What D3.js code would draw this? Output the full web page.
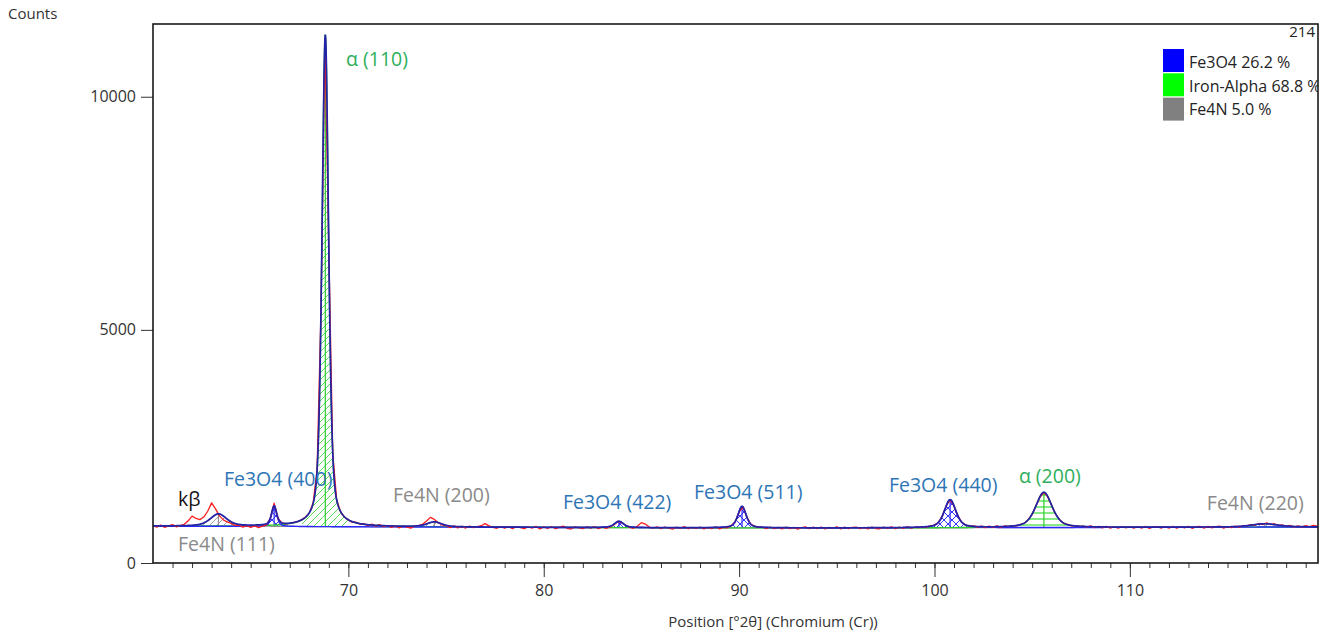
<!DOCTYPE html>
<html>
<head>
<meta charset="utf-8">
<script src="https://cdn.jsdelivr.net/npm/d3@7"></script>
<style>
  body { margin: 0; background: #ffffff; }
  svg text { font-family: "Open Sans", "Segoe UI", "Noto Sans", sans-serif; }
</style>
</head>
<body>
<svg id="chart" width="1328" height="634"></svg>
<script>
// ---- Measured scan (Cr K-alpha), counts every 0.2 deg 2-theta ----
const scanStart = 60.0;
const scanStep = 0.2;
const observedCounts = [
  800, 770, 815, 765, 795, 822, 776, 803, 830, 905,
  1005, 955, 930, 985, 1110, 1290, 1160, 1010, 925, 880,
  850, 805, 812, 770, 801, 765, 796, 760, 792, 815,
  950, 1285, 955, 860, 840, 850, 868, 890, 928, 985,
  1070, 1290, 2010, 5420, 11250, 6700, 2350, 1360, 1100, 985,
  925, 870, 875, 830, 845, 800, 835, 790, 822, 780,
  805, 765, 798, 752, 790, 770, 748, 795, 800, 830,
  900, 978, 935, 862, 815, 800, 760, 795, 752, 785,
  750, 790, 758, 780, 800, 845, 795, 762, 745, 782,
  745, 780, 738, 778, 760, 735, 775, 748, 785, 733,
  775, 740, 782, 735, 765, 790, 745, 728, 778, 755,
  735, 778, 748, 782, 738, 770, 745, 775, 822, 892,
  862, 806, 765, 745, 792, 866, 836, 770, 748, 775,
  738, 772, 750, 728, 768, 745, 780, 735, 765, 742,
  770, 733, 762, 740, 775, 730, 766, 752, 798, 886,
  1093, 1205, 980, 830, 790, 762, 770, 738, 772, 735,
  765, 732, 770, 738, 766, 728, 760, 775, 735, 768,
  738, 772, 730, 765, 742, 778, 733, 768, 736, 762,
  770, 737, 762, 730, 772, 740, 735, 768, 742, 775,
  738, 768, 742, 778, 750, 772, 760, 780, 772, 795,
  812, 870, 1008, 1222, 1360, 1218, 1004, 872, 812, 790,
  798, 765, 790, 758, 792, 762, 795, 765, 797, 780,
  800, 798, 828, 850, 935, 1045, 1235, 1410, 1515, 1412,
  1232, 1048, 935, 852, 828, 798, 800, 781, 789, 772,
  795, 760, 788, 752, 785, 750, 780, 745, 778, 752,
  780, 745, 778, 750, 786, 740, 775, 782, 748, 778,
  750, 784, 745, 780, 755, 788, 744, 778, 783, 750,
  785, 752, 780, 790, 748, 782, 760, 792, 770, 795,
  795, 825, 805, 848, 822, 860, 825, 842, 800, 818,
  785, 805, 772, 795, 768, 803, 780, 808, 790
];

// ---- Refined background (knots) ----
const bgPos    = [60, 65, 70, 75, 80, 85, 90, 95, 100, 105, 110, 115, 119.63];
const bgCounts = [790, 785, 777, 770, 763, 757, 753, 752, 754, 758, 764, 769, 773];

// ---- Fitted reflections ----
const peakPhase  = ["Fe3O4", "Fe3O4", "Fe3O4", "Fe3O4", "Iron-Alpha", "Iron-Alpha", "Fe4N", "Fe4N", "Fe4N"];
const peakHkl    = ["(400)", "(422)", "(511)", "(440)", "(110)", "(200)", "(111)", "(200)", "(220)"];
const peakPos    = [66.2, 83.85, 90.15, 100.8, 68.82, 105.6, 63.35, 74.4, 116.9];
const peakHeight = [410, 135, 460, 600, 10550, 755, 260, 105, 70];
const peakFwhm   = [0.32, 0.55, 0.5, 0.7, 0.40, 1.0, 1.0, 0.9, 1.6];
const peakEta    = 0.5;   // pseudo-Voigt Lorentzian fraction

// ---- Phases (legend) ----
const phaseNames   = ["Fe3O4", "Iron-Alpha", "Fe4N"];
const phasePercent = ["26.2", "68.8", "5.0"];
const scoreText    = "214";

// ---- Peak annotations (left edge 2-theta, baseline counts) ----
const labelText   = ["α (110)", "Fe3O4 (400)", "kβ", "Fe4N (111)", "Fe4N (200)", "Fe3O4 (422)", "Fe3O4 (511)", "Fe3O4 (440)", "α (200)", "Fe4N (220)"];
const labelPhase  = ["Iron-Alpha", "Fe3O4", "none", "Fe4N", "Fe4N", "Fe3O4", "Fe3O4", "Fe3O4", "Iron-Alpha", "Fe4N"];
const labelPos    = [69.88, 63.63, 61.28, 61.28, 72.28, 80.98, 87.69, 97.67, 104.32, 113.94];
const labelCounts = [10658, 1651, 1222, 257, 1308, 1158, 1372, 1523, 1716, 1137];

// ---- Axis ticks ----
const xTicks = [70, 80, 90, 100, 110];
const xMinorTicks = d3.range(61, 120, 1);
const yTicks = [0, 5000, 10000];

// ---------------------------------------------------------------
const M = { left: 153, right: 1318, top: 24, bottom: 563 };
const svg = d3.select("#chart");

const x = d3.scaleLinear().domain([60, 119.63]).range([M.left, M.right]);
const y = d3.scaleLinear().domain([0, 11560]).range([M.bottom, M.top]);
const bg = d3.scaleLinear().domain(bgPos).range(bgCounts);

const swatch = { "Fe3O4": "#0000ff", "Iron-Alpha": "#00ff00", "Fe4N": "#808080" };
const lineCol = { "Fe3O4": "#2a2aff", "Iron-Alpha": "#2ccc2c", "Fe4N": "#909090" };
const textCol = { "Fe3O4": "#2e75b6", "Iron-Alpha": "#2eaf5c", "Fe4N": "#8a8a8a", "none": "#111111" };

const peaks = peakPos.map((p, i) => ({
  phase: peakPhase[i], hkl: peakHkl[i], pos: p, h: peakHeight[i], w: peakFwhm[i]
}));

function pseudoVoigt(dx, w) {
  const r2 = (dx / w) * (dx / w);
  return peakEta / (1 + 4 * r2) + (1 - peakEta) * Math.exp(-4 * Math.LN2 * r2);
}
const peakAt = (pk, t) => pk.h * pseudoVoigt(t - pk.pos, pk.w);
const grid = d3.range(60, 119.63 + 1e-9, 0.02);

// ---- hatch patterns ----
const defs = svg.append("defs");
defs.append("clipPath").attr("id", "plotClip")
  .append("rect").attr("x", M.left).attr("y", M.top)
  .attr("width", M.right - M.left).attr("height", M.bottom - M.top);

function diagPattern(id, color, size, both) {
  const p = defs.append("pattern").attr("id", id).attr("patternUnits", "userSpaceOnUse")
    .attr("width", size).attr("height", size);
  p.append("path").attr("d", `M0,${size} L${size},0 M${-size / 2},${size / 2} L${size / 2},${-size / 2} M${size / 2},${size * 1.5} L${size * 1.5},${size / 2}`)
    .attr("stroke", color).attr("stroke-width", 1);
  if (both) {
    p.append("path").attr("d", `M0,0 L${size},${size} M${-size / 2},${size / 2} L${size / 2},${size * 1.5} M${size / 2},${-size / 2} L${size * 1.5},${size / 2}`)
      .attr("stroke", color).attr("stroke-width", 1);
  }
}
diagPattern("hatchFe3O4", "#3535ff", 8, true);
diagPattern("hatchAlpha", "#55dd55", 7, false);
diagPattern("hatchFe4N", "#a0a0a0", 7, false);
const hp = defs.append("pattern").attr("id", "hatchAlphaH").attr("patternUnits", "userSpaceOnUse")
  .attr("width", 10).attr("height", 6);
hp.append("line").attr("x1", 0).attr("x2", 10).attr("y1", 3).attr("y2", 3)
  .attr("stroke", "#33dd33").attr("stroke-width", 1.2);

function hatchFor(pk) {
  if (pk.phase === "Fe3O4") return "url(#hatchFe3O4)";
  if (pk.phase === "Fe4N") return "url(#hatchFe4N)";
  return pk.w >= 0.8 ? "url(#hatchAlphaH)" : "url(#hatchAlpha)";
}

const plot = svg.append("g").attr("clip-path", "url(#plotClip)");

// ---- individual reflections: hatched areas and sticks ----
const area = d3.area().x(d => x(d[0])).y0(d => y(d[1])).y1(d => y(d[2]));
peaks.forEach(pk => {
  const pts = grid.filter(t => Math.abs(t - pk.pos) <= 3 * pk.w)
    .map(t => [t, bg(t), bg(t) + peakAt(pk, t)]);
  plot.append("path").attr("d", area(pts)).attr("fill", hatchFor(pk)).attr("stroke", "none");
  plot.append("line")
    .attr("x1", x(pk.pos)).attr("x2", x(pk.pos))
    .attr("y1", y(bg(pk.pos))).attr("y2", y(bg(pk.pos) + pk.h))
    .attr("stroke", lineCol[pk.phase]).attr("stroke-width", 1.2);
});

// ---- phase profiles ----
const line = d3.line().x(d => x(d[0])).y(d => y(d[1]));
["Fe4N", "Iron-Alpha", "Fe3O4"].forEach(ph => {
  const pks = peaks.filter(p => p.phase === ph);
  const pts = grid.map(t => [t, bg(t) + d3.sum(pks, p => peakAt(p, t))]);
  plot.append("path").attr("d", line(pts)).attr("fill", "none")
    .attr("stroke", lineCol[ph]).attr("stroke-width", ph === "Fe4N" ? 1.2 : 1.4);
});

// ---- observed scan ----
const obs = observedCounts.map((c, i) => [scanStart + i * scanStep, c]);
plot.append("path").attr("d", line(obs)).attr("fill", "none")
  .attr("stroke", "#ff1e1e").attr("stroke-width", 1.3).attr("stroke-linejoin", "round");

// ---- calculated total profile ----
const calc = grid.map(t => [t, bg(t) + d3.sum(peaks, p => peakAt(p, t))]);
plot.append("path").attr("d", line(calc)).attr("fill", "none")
  .attr("stroke", "#2323a8").attr("stroke-width", 1.7);

// ---- annotations ----
svg.append("g").selectAll("text").data(labelText).join("text")
  .attr("x", (d, i) => x(labelPos[i]))
  .attr("y", (d, i) => y(labelCounts[i]))
  .attr("font-size", 19.5)
  .attr("fill", (d, i) => textCol[labelPhase[i]])
  .text(d => d);

// ---- axes ----
const axisFont = g => g.selectAll("text").attr("font-size", 16).attr("fill", "#333");
svg.append("g").attr("transform", `translate(0,${M.bottom})`)
  .call(d3.axisBottom(x).tickValues(xMinorTicks).tickSize(5).tickFormat("").tickSizeOuter(0))
  .call(g => g.select(".domain").remove())
  .call(g => g.selectAll("line").attr("stroke", "#333"));
svg.append("g").attr("transform", `translate(0,${M.bottom})`)
  .call(d3.axisBottom(x).tickValues(xTicks).tickSize(14).tickPadding(8).tickSizeOuter(0).tickFormat(d3.format("d")))
  .call(g => g.select(".domain").remove())
  .call(g => g.selectAll("line").attr("stroke", "#333"))
  .call(axisFont);
svg.append("g").attr("transform", `translate(${M.left},0)`)
  .call(d3.axisLeft(y).tickValues(yTicks).tickSize(12).tickPadding(5).tickSizeOuter(0).tickFormat(d3.format("d")))
  .call(g => g.select(".domain").remove())
  .call(g => g.selectAll("line").attr("stroke", "#333"))
  .call(axisFont);

// plot frame
svg.append("rect").attr("x", M.left).attr("y", M.top)
  .attr("width", M.right - M.left).attr("height", M.bottom - M.top)
  .attr("fill", "none").attr("stroke", "#1a1a1a").attr("stroke-width", 1.6);

svg.append("text").attr("x", 8).attr("y", 19).attr("font-size", 15).attr("fill", "#333").text("Counts");
svg.append("text").attr("x", 773).attr("y", 627)
  .attr("text-anchor", "middle").attr("font-size", 15).attr("fill", "#333")
  .text("Position [°2θ] (Chromium (Cr))");

// ---- legend ----
const leg = svg.append("g").attr("clip-path", "url(#plotClip)");
leg.append("text").attr("x", 1315).attr("y", 37).attr("text-anchor", "end")
  .attr("font-size", 15).attr("fill", "#222").text(scoreText);
phaseNames.forEach((ph, i) => {
  leg.append("rect").attr("x", 1163).attr("y", 49 + i * 24.3).attr("width", 21).attr("height", 23)
    .attr("fill", swatch[ph]);
  leg.append("text").attr("x", 1189).attr("y", 68 + i * 23.5).attr("font-size", 16)
    .attr("fill", "#222").text(`${ph} ${phasePercent[i]} %`);
});
</script>
</body>
</html>
